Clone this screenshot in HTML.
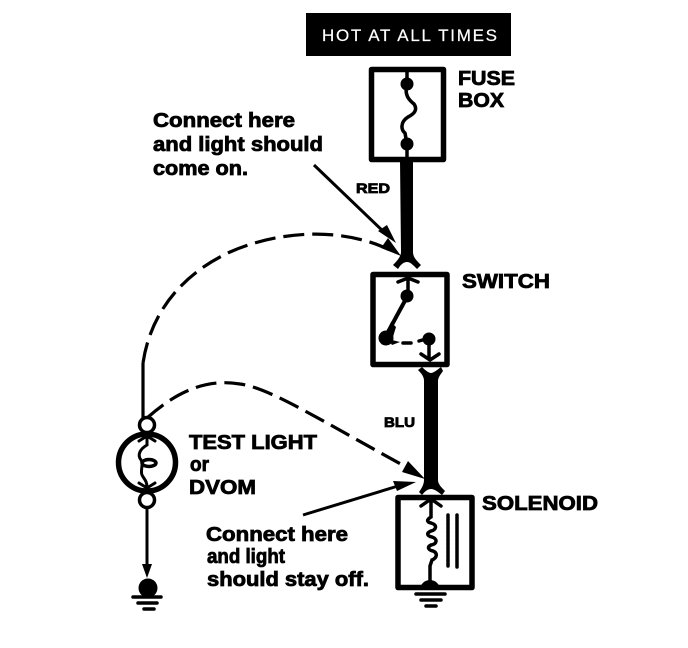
<!DOCTYPE html>
<html><head><meta charset="utf-8"><style>
html,body{margin:0;padding:0;background:#fff}
svg{display:block}
text{font-family:"Liberation Sans",sans-serif;font-weight:bold;fill:#000;stroke:#000;stroke-width:.8}
</style></head><body>
<svg width="688" height="648" viewBox="0 0 688 648" xmlns="http://www.w3.org/2000/svg">
<rect width="688" height="648" fill="#fff"/>
<rect x="306" y="13" width="205" height="43" fill="#000"/>
<text x="322" y="41" font-size="17" textLength="175" lengthAdjust="spacing" style="font-weight:normal;fill:#fff;stroke:#fff;stroke-width:.2">HOT AT ALL TIMES</text>

<g fill="none" stroke="#000" stroke-linecap="round" stroke-linejoin="round">
<rect x="371.5" y="69.5" width="72" height="90" stroke-width="5.5"/>
<path d="M407 70V84C404 95 409 100 414 104C418 110 414 114 408 117C400 122 401 130 405 133L407 144V160" stroke-width="3.5"/>
<rect x="373" y="274.5" width="74" height="90" stroke-width="5.5"/>
<rect x="398" y="497.5" width="74" height="90" stroke-width="5.5"/>
</g>
<circle cx="407" cy="84" r="6.5"/><circle cx="407" cy="144" r="6.5"/>

<!-- red wire -->
<path d="M400 160H413V252C413 257 416 260 421 265L417 269C412 264 410 262 407 262C404 262 401 264 398 269L393 265C398 260 401 256 401 252Z"/>
<!-- blue wire -->
<path d="M424 480V381C424 377 422 374 418 370L422 367C426 371 429 373 431 373C433 373 436 371 441 367L443 371C440 375 438 378 438 381V480C438 484 441 487 445 491L442 495C437 491 434 489 431 489C428 489 425 491 422 495L419 492C422 488 424 484 424 480Z"/>

<!-- switch internals -->
<g fill="none" stroke="#000" stroke-linecap="round">
<path d="M398 282L408 278L418 282M408 278V297" stroke-width="3.5"/>
<path d="M407 297L388 332" stroke-width="4"/>
<path d="M403 343H411M419 341L426 339" stroke-width="3.5"/>
<path d="M429 340V358M421 354L430 360L439 354" stroke-width="3.5"/>
</g>
<circle cx="407" cy="296" r="6.5"/><circle cx="386" cy="338" r="7.5"/><path d="M385 335L391 322L396 327L392 340L400 342L392 345Z"/><circle cx="429" cy="339" r="6.5"/>

<!-- solenoid internals -->
<g fill="none" stroke="#000" stroke-linecap="round">
<path d="M421 506L431 499L441 506M431 499V517C426 520 427 522 431 523C438 525 436 530 431 531C426 533 427 536 432 537C438 539 437 544 431 545C427 547 428 550 433 551C438 553 437 558 432 560L430 566V582" stroke-width="3.5"/>
<path d="M448 515V567" stroke-width="3.5" stroke-dasharray="3 1"/>
<path d="M457 515V567" stroke-width="3.5"/>
<path d="M416 594H445" stroke-width="3.5"/>
<path d="M421 600H441" stroke-width="3.5"/>
<path d="M426 606H436" stroke-width="3.5"/>
</g>
<path d="M420 590A10 10 0 0 1 440 590Z"/>

<!-- test light -->
<circle cx="147" cy="462.5" r="28.5" fill="none" stroke="#000" stroke-width="5.5"/>
<circle cx="147" cy="425" r="7.5" fill="#fff" stroke="#000" stroke-width="3.5"/>
<circle cx="147" cy="500" r="7.5" fill="#fff" stroke="#000" stroke-width="3.5"/>
<g fill="none" stroke="#000" stroke-linecap="round">
<path d="M139 441L147 436L155 441M147 436V445C140 449 137 455 141 460C144 464 140 470 142 475C144 479 147 481 147 487M139 483L147 488L155 483" stroke-width="3"/>
<path d="M147 509V566" stroke-width="3"/>
<ellipse cx="149" cy="463" rx="7" ry="3.5" stroke-width="3.5"/>
<path d="M133 597H161" stroke-width="3.5"/>
<path d="M138 603H157" stroke-width="3.5"/>
<path d="M144 609H154" stroke-width="3.5"/>
</g>
<path d="M142 564H152L147 578Z"/>
<circle cx="148" cy="588" r="9.5"/>

<!-- dashed test leads -->
<g fill="none" stroke="#000" stroke-width="3.2">
<path d="M143 418V363"/>
<path d="M143 363C150 315 180 275 230 252C275 232 340 225 392 251" stroke-dasharray="21 8"/>
<path d="M147 418C175 393 205 378 240 384C270 388 320 420 408 468" stroke-dasharray="21 8"/>
<path d="M314 165L386 234" stroke-width="3"/>
<path d="M303 515L398 486" stroke-width="3"/>
</g>
<path d="M396 243L378 231L387 225Z"/>
<path d="M401 256L381 248L388 238Z"/>
<path d="M425 479L402 472L408 461Z"/>
<path d="M416 482L393 481L397 491Z"/>

<!-- labels -->
<text x="458" y="85" font-size="20" textLength="57" lengthAdjust="spacingAndGlyphs">FUSE</text>
<text x="458" y="107" font-size="20" textLength="46" lengthAdjust="spacingAndGlyphs">BOX</text>
<text x="153" y="127" font-size="20" textLength="142" lengthAdjust="spacingAndGlyphs">Connect here</text>
<text x="153" y="151" font-size="20" textLength="170" lengthAdjust="spacingAndGlyphs">and light should</text>
<text x="153" y="175" font-size="20" textLength="95" lengthAdjust="spacingAndGlyphs">come on.</text>
<text x="356" y="193" font-size="14" textLength="34" lengthAdjust="spacingAndGlyphs">RED</text>
<text x="462" y="288" font-size="20" textLength="88" lengthAdjust="spacingAndGlyphs">SWITCH</text>
<text x="384" y="427" font-size="14" textLength="31" lengthAdjust="spacingAndGlyphs">BLU</text>
<text x="189" y="449" font-size="20" textLength="128" lengthAdjust="spacingAndGlyphs">TEST LIGHT</text>
<text x="190" y="471" font-size="20" textLength="19" lengthAdjust="spacingAndGlyphs">or</text>
<text x="189" y="494" font-size="20" textLength="67" lengthAdjust="spacingAndGlyphs">DVOM</text>
<text x="482" y="510" font-size="20" textLength="116" lengthAdjust="spacingAndGlyphs">SOLENOID</text>
<text x="206" y="541" font-size="20" textLength="142" lengthAdjust="spacingAndGlyphs">Connect here</text>
<text x="207" y="563" font-size="20" textLength="78" lengthAdjust="spacingAndGlyphs">and light</text>
<text x="207" y="586" font-size="20" textLength="162" lengthAdjust="spacingAndGlyphs">should stay off.</text>
</svg>
</body></html>
